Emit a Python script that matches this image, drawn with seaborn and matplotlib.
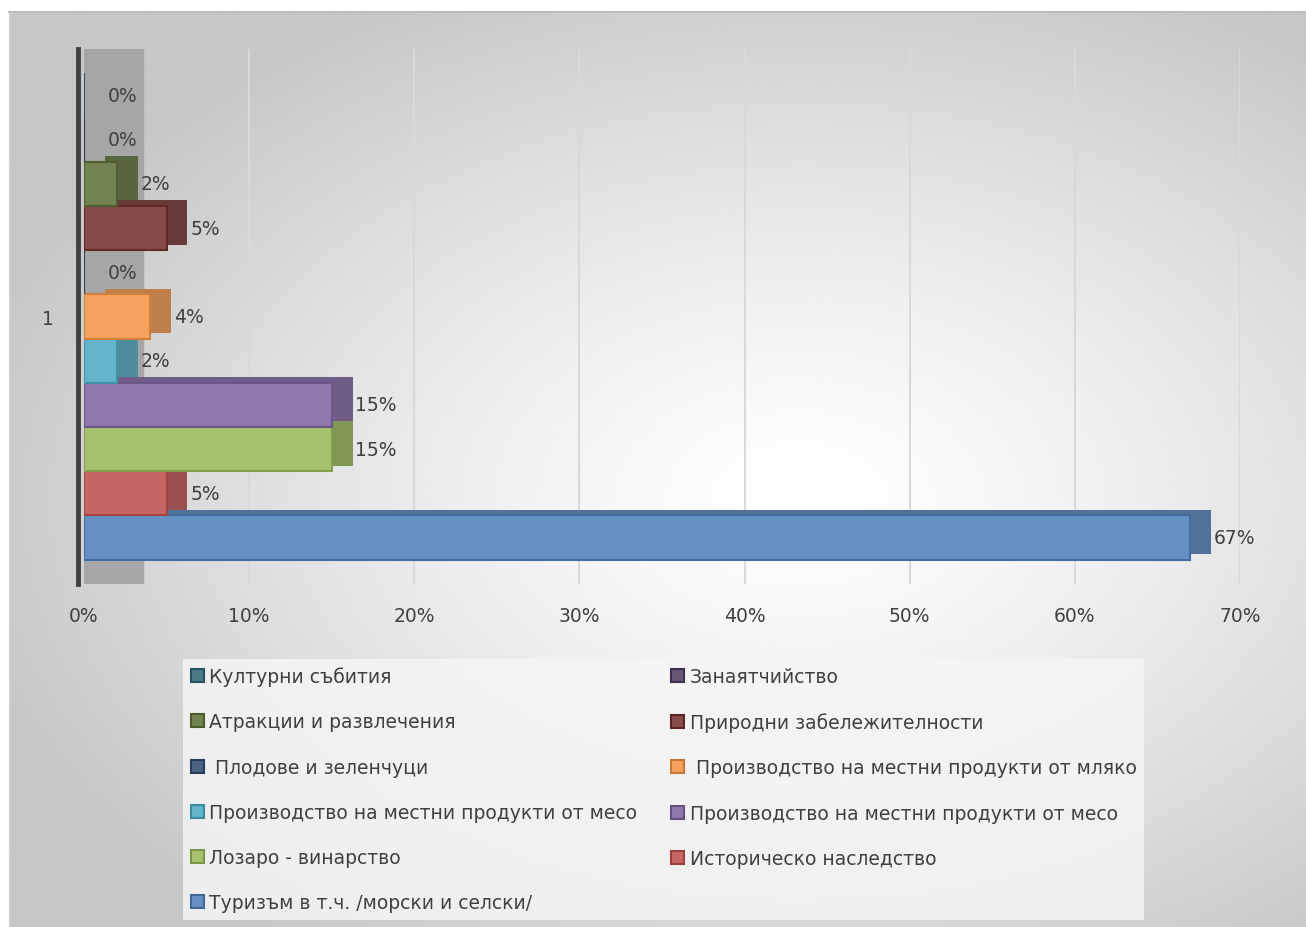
import numpy as np
import pandas as pd
import matplotlib
matplotlib.use("Agg")
import matplotlib.pyplot as plt
import matplotlib.colors as mcolors
import matplotlib.patheffects as pe
from matplotlib.patches import Patch
import seaborn as sns

# данни (отгоре надолу, както в диаграмата)
series_names = [
    "Културни събития",
    "Занаятчийство",
    "Атракции и развлечения",
    "Природни забележителности",
    " Плодове и зеленчуци",
    " Производство на местни продукти от мляко",
    "Производство на местни продукти от месо",
    "Производство на местни продукти от месо",
    "Лозаро - винарство",
    "Историческо наследство",
    "Туризъм в т.ч. /морски и селски/",
]
values = [0, 0, 2, 5, 0, 4, 2, 15, 15, 5, 67]
category = "1"
series_colors = [
    "#2D6777", "#4D3C61", "#5D7035", "#73302E", "#2F4D71",
    "#F79646", "#4BACC6", "#8064A2", "#9BBB59", "#C0504D", "#4F81BD",
]
x_ticks = [0, 10, 20, 30, 40, 50, 60, 70]

ids = [f"s{i}" for i in range(len(series_names))]
df = pd.DataFrame({"id": ids, "value": values, "cat": category})
palette = dict(zip(ids, series_colors))


def darker(c, f=0.72):
    r, g, b = mcolors.to_rgb(c)
    return (r * f, g * f, b * f)


def soft(c, a=0.85, back=0.91):
    # прозрачен цвят върху светлосив фон, но непрозрачен
    r, g, b = mcolors.to_rgb(c)
    return (r * a + back * (1 - a), g * a + back * (1 - a), b * a + back * (1 - a))


sns.set_style("white")
plt.rcParams["font.family"] = ["DejaVu Sans"]
text_col = "#404040"
fs = 13.5

W, H = 1306, 928
fig = plt.figure(figsize=(W / 100, H / 100), dpi=100)
fig.patch.set_facecolor("white")

# фон с радиален градиент
bg = fig.add_axes([9 / W, 0, 1 - 9 / W, 1 - 13 / H], zorder=-5)
yy, xx = np.mgrid[0:400, 0:600]
xs = xx / 599 * (W - 9) + 9
ys = yy / 399 * (H - 13) + 13
r = np.sqrt(((xs - 800) / 850) ** 2 + ((ys - 500) / 560) ** 2)
grad = 1 - 0.22 * np.clip(r, 0, 1) ** 1.3
bg.imshow(grad, cmap="gray", vmin=0, vmax=1, aspect="auto",
          extent=(0, 1, 0, 1), interpolation="bilinear")
bg.set_xticks([])
bg.set_yticks([])
for s in bg.spines.values():
    s.set_visible(False)
bg.spines["top"].set_visible(True)
bg.spines["top"].set_color("#BDBDBD")
bg.spines["top"].set_linewidth(1.5)
bg.spines["left"].set_visible(True)
bg.spines["left"].set_color("#D4D4D4")

ax = fig.add_axes([84 / W, 1 - 585 / H, 1156 / W, 535 / H])
ax.patch.set_alpha(0)

sns.barplot(data=df, x="value", y="cat", hue="id", hue_order=ids,
            palette=palette, orient="h", width=0.9, dodge=True,
            saturation=1, legend=False, ax=ax)

n = len(ids)
for i, cont in enumerate(ax.containers):
    c = series_colors[i]
    for p in cont:
        p.set_facecolor(soft(c))
        p.set_edgecolor(darker(c, 0.85))
        p.set_linewidth(1.5)
        p.set_zorder(3 + (n - i) * 0.01)
        p.set_path_effects([
            pe.SimplePatchShadow(offset=(15, 4), shadow_rgbFace=darker(soft(c), 0.78),
                                 alpha=1),
            pe.Normal(),
        ])
    labels = ax.bar_label(cont, labels=[f"{v:.0f}%" for v in cont.datavalues],
                          padding=17, fontsize=fs, color=text_col)
    for t in labels:
        t.set_zorder(6)

# стена зад лентите
ax.axvspan(0, 3.6, color="#A6A6A6", zorder=1)

ax.set_xlim(0, 70)
ax.set_ylim(0.4953, -0.4953)
ax.set_xticks(x_ticks)
ax.set_xticklabels([f"{t}%" for t in x_ticks])
ax.tick_params(axis="x", length=0, pad=16, labelsize=fs, labelcolor=text_col)
ax.tick_params(axis="y", length=0, pad=18, labelsize=fs, labelcolor=text_col)
ax.set_xlabel("")
ax.set_ylabel("")
ax.grid(axis="x", color="#D9D9D9", linewidth=1.5)
ax.grid(axis="y", visible=False)
ax.set_axisbelow(True)
for s in ["top", "right", "bottom"]:
    ax.spines[s].set_visible(False)
ax.spines["left"].set_color("#404040")
ax.spines["left"].set_linewidth(3.5)
ax.spines["left"].set_position(("outward", 4))
ax.spines["left"].set_zorder(7)

# легенда в две колони, попълнена по редове
handles = [Patch(facecolor=soft(c), edgecolor=darker(c, 0.8),
                 linewidth=1.5) for c in series_colors]
order = list(range(0, n, 2)) + list(range(1, n, 2))
leg = fig.legend([handles[k] for k in order], [series_names[k] for k in order],
                 loc="upper left", bbox_to_anchor=(183 / W, 1 - 660 / H),
                 borderaxespad=0, ncol=2, frameon=True, facecolor="#F5F5F5",
                 edgecolor="none", framealpha=0.85, fancybox=False, fontsize=fs,
                 handlelength=0.7, handleheight=0.7, handletextpad=0.3,
                 labelspacing=1.4, columnspacing=1.8, borderpad=0.4)
for t in leg.get_texts():
    t.set_color(text_col)

fig.savefig("out.png", dpi=100)
